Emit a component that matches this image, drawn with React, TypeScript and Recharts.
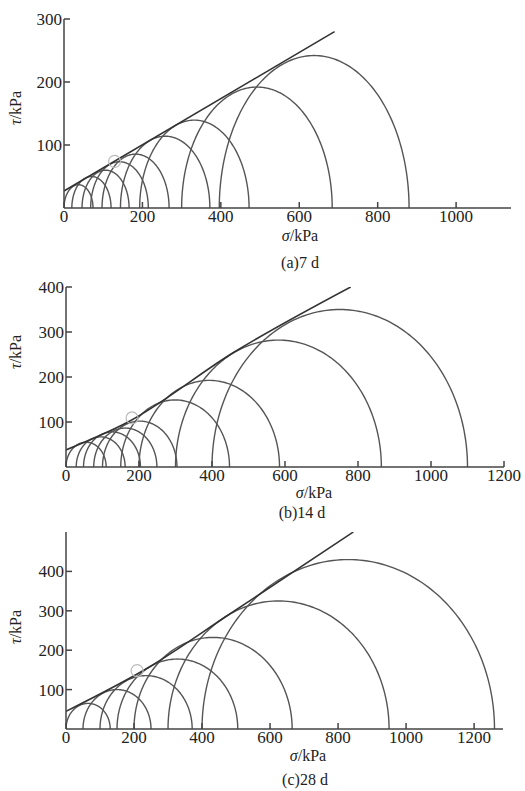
import { ComposedChart, Line, Scatter, XAxis, YAxis } from 'recharts'

// Mohr circles: minor (sigma3) and major (sigma1) principal stress, kPa
const sigma3_7d = [0, 20, 46, 68, 97, 144, 193, 300, 396]
const sigma1_7d = [74, 120, 166, 215, 268, 372, 472, 684, 880]
const envelope7d = [{ x: 0, y: 27 }, { x: 690, y: 280 }]
const marker7d = [{ x: 129, y: 74 }]
const xTicks7d = [0, 200, 400, 600, 800, 1000]
const yTicks7d = [100, 200, 300]

const sigma3_14d = [0, 28, 48, 76, 100, 150, 200, 300, 400]
const sigma1_14d = [110, 162, 204, 249, 304, 448, 585, 864, 1100]
const envelope14d = [{ x: 0, y: 38 }, { x: 170, y: 100 }, { x: 460, y: 255 }, { x: 780, y: 400 }]
const marker14d = [{ x: 181, y: 109 }]
const xTicks14d = [0, 200, 400, 600, 800, 1000, 1200]
const yTicks14d = [100, 200, 300, 400]

const sigma3_28d = [0, 50, 100, 150, 200, 300, 400]
const sigma1_28d = [130, 250, 371, 505, 665, 950, 1260]
const envelope28d = [{ x: 0, y: 45 }, { x: 250, y: 160 }, { x: 475, y: 288 }, { x: 845, y: 500 }]
const marker28d = [{ x: 209, y: 148 }]
const xTicks28d = [0, 200, 400, 600, 800, 1000, 1200]
const yTicks28d = [100, 200, 300, 400]

const FONT = '"Liberation Serif", "DejaVu Serif", serif'
const tickStyle = { fill: '#222', fontSize: 17, fontFamily: FONT }

// upper half of a Mohr circle through (s3, 0) and (s1, 0)
function mohrArc(s3: number, s1: number) {
  const c = (s1 + s3) / 2
  const r = (s1 - s3) / 2
  return Array.from({ length: 121 }, (_, i) => {
    const t = Math.PI * (1 - i / 120)
    return { x: c + r * Math.cos(t), y: r * Math.sin(t) }
  })
}

type PanelProps = {
  top: number
  height: number
  margin: { top: number; right: number; left: number; bottom: number }
  xMax: number
  yMax: number
  xTicks: number[]
  yTicks: number[]
  s3: number[]
  s1: number[]
  envelope: { x: number; y: number }[]
  marker: { x: number; y: number }[]
}

function Panel(p: PanelProps) {
  return (
    <div style={{ position: 'absolute', left: 0, top: p.top }}>
      <ComposedChart width={525} height={p.height} margin={p.margin}>
        <XAxis
          type="number"
          dataKey="x"
          domain={[0, p.xMax]}
          ticks={p.xTicks}
          allowDataOverflow
          height={24}
          tick={tickStyle}
          tickSize={-6}
          tickMargin={8}
          stroke="#444"
          strokeWidth={1.5}
          interval={0}
        />
        <YAxis
          type="number"
          dataKey="y"
          domain={[0, p.yMax]}
          ticks={p.yTicks}
          allowDataOverflow
          width={50}
          tick={tickStyle}
          tickSize={-6}
          tickMargin={8}
          stroke="#444"
          strokeWidth={1.5}
          interval={0}
        />
        {p.s3.map((s, i) => (
          <Line
            key={i}
            data={mohrArc(s, p.s1[i])}
            dataKey="y"
            type="linear"
            stroke="#555"
            strokeWidth={1.4}
            dot={false}
            activeDot={false}
            isAnimationActive={false}
          />
        ))}
        <Line
          data={p.envelope}
          dataKey="y"
          type="monotone"
          stroke="#333"
          strokeWidth={1.6}
          dot={false}
          activeDot={false}
          isAnimationActive={false}
        />
        <Scatter
          data={p.marker}
          dataKey="y"
          shape={(props: any) => <circle cx={props.cx} cy={props.cy} r={6} fill="none" stroke="#bbb" strokeWidth={1.2} />}
          isAnimationActive={false}
        />
      </ComposedChart>
    </div>
  )
}

const textBase: React.CSSProperties = {
  position: 'absolute',
  fontFamily: FONT,
  fontSize: 16,
  color: '#222',
  whiteSpace: 'nowrap',
  lineHeight: 1,
}

function Label({ x, y, rotate, children }: { x: number; y: number; rotate?: boolean; children: React.ReactNode }) {
  return (
    <div
      style={{
        ...textBase,
        left: x,
        top: y,
        transform: `translate(-50%, -50%)${rotate ? ' rotate(-90deg)' : ''}`,
      }}
    >
      {children}
    </div>
  )
}

export default function App() {
  return (
    <div style={{ position: 'absolute', left: 0, top: 0, width: 525, height: 791, background: '#fff' }}>
      <Panel
        top={0}
        height={232}
        margin={{ top: 19, right: 14, left: 14, bottom: 0 }}
        xMax={1140}
        yMax={300}
        xTicks={xTicks7d}
        yTicks={yTicks7d}
        s3={sigma3_7d}
        s1={sigma1_7d}
        envelope={envelope7d}
        marker={marker7d}
      />
      <Label x={16} y={108} rotate><i>τ</i>/kPa</Label>
      <Label x={300} y={236}><i>σ</i>/kPa</Label>
      <Label x={300} y={263}>(a)7 d</Label>

      <Panel
        top={270}
        height={221}
        margin={{ top: 17, right: 21, left: 16, bottom: 0 }}
        xMax={1200}
        yMax={400}
        xTicks={xTicks14d}
        yTicks={yTicks14d}
        s3={sigma3_14d}
        s1={sigma1_14d}
        envelope={envelope14d}
        marker={marker14d}
      />
      <Label x={16} y={352} rotate><i>τ</i>/kPa</Label>
      <Label x={314} y={493}><i>σ</i>/kPa</Label>
      <Label x={302} y={513}>(b)14 d</Label>

      <Panel
        top={520}
        height={233}
        margin={{ top: 12, right: 22, left: 16, bottom: 0 }}
        xMax={1285}
        yMax={500}
        xTicks={xTicks28d}
        yTicks={yTicks28d}
        s3={sigma3_28d}
        s1={sigma1_28d}
        envelope={envelope28d}
        marker={marker28d}
      />
      <Label x={16} y={627} rotate><i>τ</i>/kPa</Label>
      <Label x={308} y={756}><i>σ</i>/kPa</Label>
      <Label x={305} y={780}>(c)28 d</Label>
    </div>
  )
}
